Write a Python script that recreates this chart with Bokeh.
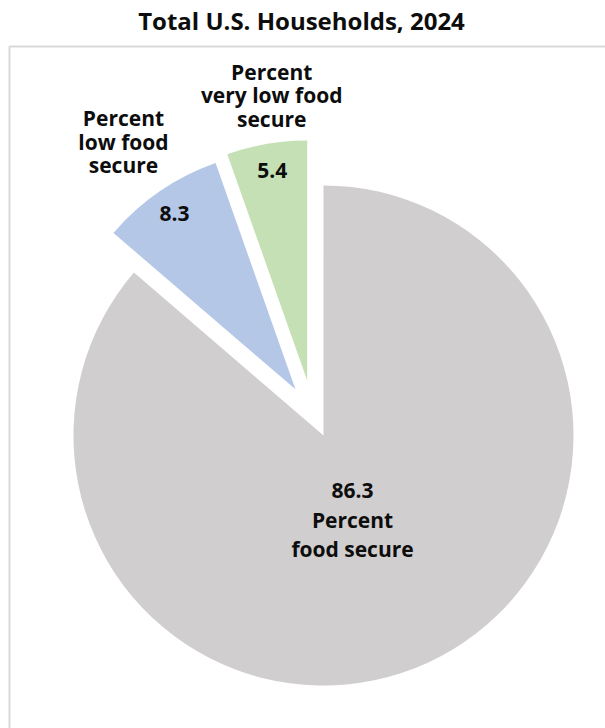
import math
from bokeh.plotting import figure
from bokeh.models import Range1d, ColumnDataSource
from bokeh.core.properties import value
from bokeh.embed import file_html
from bokeh.resources import INLINE

# ---- data ----
title_text = "Total U.S. Households, 2024"
categories = ["Percent\nfood secure", "Percent\nlow food\nsecure", "Percent\nvery low food\nsecure"]
values = [86.3, 8.3, 5.4]

# ---- style / layout ----
colors = ["#D0CECE", "#B4C7E7", "#C5E0B4"]
W, H = 605, 728
CX, CY = 323, 293            # pie centre (pixel-like data units)
radii = [250, 240, 240]
explode_dist = [0, 54, 57.4]
explode_dir = [0, 121.3, 106.5]
# label placement (radius, angle) relative to each slice apex
cat_r = [88.9, 301.4, 287.2]
cat_a = [-70.95, 124.8, 97.1]
val_r = [None, 213.6, 212.4]
val_a = [None, 124.5, 99.5]
line_sp = [29.5, 23.5, 23.5]
FONT = "Open Sans"
LABEL_SIZE = "21px"
TITLE_SIZE = "24px"

p = figure(width=W, height=H, x_range=Range1d(0, W), y_range=Range1d(0, H),
           output_backend="svg", toolbar_location=None,
           x_axis_type=None, y_axis_type=None,
           min_border_left=0, min_border_right=0, min_border_top=0, min_border_bottom=0)
p.grid.visible = False
p.outline_line_color = None
p.background_fill_color = "white"
p.border_fill_color = "white"

# frame of the plot area (top & left visible; right/bottom fall outside the window)
p.quad(left=[9], right=[W + 50], bottom=[-50], top=[682],
       fill_color=None, line_color="#D9D9D9", line_width=2)

total = sum(values)
start = 90.0
xs, ys, sa, ea, rr, cc = [], [], [], [], [], []
apex = []
for v, r, c, d, dd in zip(values, radii, colors, explode_dist, explode_dir):
    sweep = v / total * 360.0
    end = start - sweep
    ax = CX + d * math.cos(math.radians(dd))
    ay = CY + d * math.sin(math.radians(dd))
    xs.append(ax); ys.append(ay)
    sa.append(math.radians(start)); ea.append(math.radians(end))
    rr.append(r); cc.append(c)
    apex.append((ax, ay))
    start = end

src = ColumnDataSource(dict(x=xs, y=ys, start=sa, end=ea, r=rr, color=cc))
p.wedge(x="x", y="y", radius="r", start_angle="start", end_angle="end",
        direction="clock", fill_color="color", line_color=None, source=src)

tx, ty, tt = [], [], []
for i, (v, cat) in enumerate(zip(values, categories)):
    ax, ay = apex[i]
    lines = cat.split("\n")
    if val_r[i] is None:
        lines = [f"{v}"] + lines
    else:
        vx = ax + val_r[i] * math.cos(math.radians(val_a[i]))
        vy = ay + val_r[i] * math.sin(math.radians(val_a[i]))
        tx.append(vx); ty.append(vy); tt.append(f"{v}")
    bx = ax + cat_r[i] * math.cos(math.radians(cat_a[i]))
    by = ay + cat_r[i] * math.sin(math.radians(cat_a[i]))
    n = len(lines)
    for k, ln in enumerate(lines):
        tx.append(bx)
        ty.append(by + ((n - 1) / 2 - k) * line_sp[i])
        tt.append(ln)

p.text(x=tx, y=ty, text=tt, text_font=value(FONT), text_font_style="bold",
       text_font_size=LABEL_SIZE, text_align="center", text_baseline="middle",
       text_color="#0D0D0D")

p.text(x=[301], y=[708], text=[title_text], text_font=value(FONT), text_font_style="bold",
       text_font_size=TITLE_SIZE, text_align="center", text_baseline="middle",
       text_color="#0D0D0D")

open("out.html", "w").write(file_html(p, INLINE))
